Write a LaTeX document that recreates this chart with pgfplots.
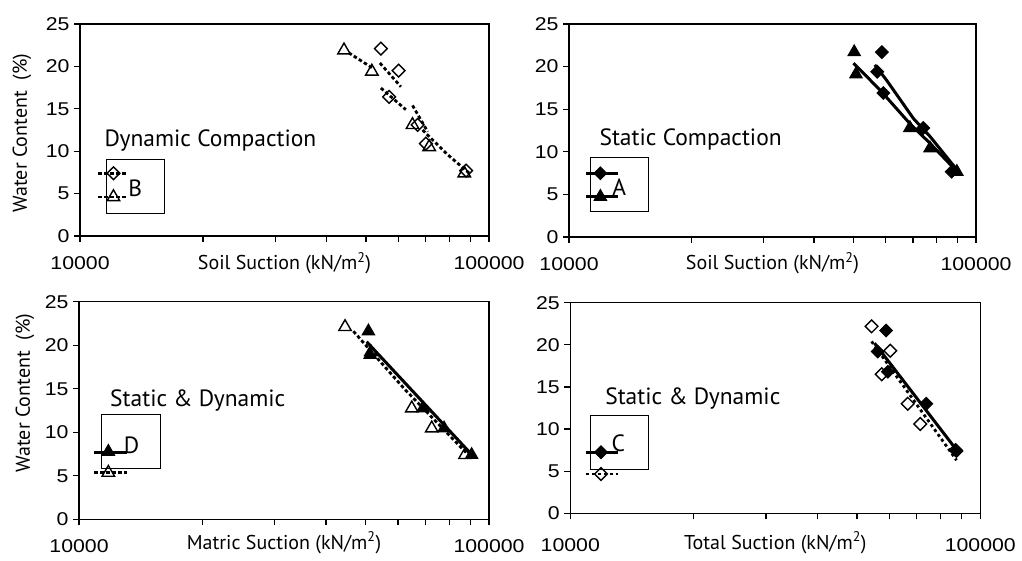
\documentclass[border=0pt]{standalone}
\usepackage{fontspec}
\setmainfont{PT Sans}
\newfontfamily\tickfont[FakeStretch=1.15]{Liberation Sans}
\usepackage{pgfplots}
\pgfplotsset{compat=1.18}
\pgfplotsset{
  suctionpanel/.style={
    xmin=10000, xmax=100000, ymin=0, ymax=25,
    scale only axis, clip=false,
    xtick={10000,100000}, xticklabels={10000,100000},
    minor xtick={20000,30000,40000,50000,60000,70000,80000,90000},
    ytick={0,5,10,15,20,25},
    tick align=outside, xtick pos=bottom, ytick pos=left,
    major tick length=6pt, minor tick length=6pt,
    axis line style={line width=1.3pt}, every tick/.style={line width=1.3pt, black},
    every minor tick/.style={line width=1.3pt, black},
    ticklabel style={font=\tickfont\fontsize{18.5}{18}\selectfont},
    /pgf/number format/assume math mode=true,
    yticklabel style={anchor=east, xshift=-1pt},
    xlabel style={font=\fontsize{20}{22}\selectfont, at={(axis description cs:0.5,0)}},
    unbounded coords=jump,
  },
  otri/.style={only marks, mark=triangle, mark size=7.2pt, mark options={solid, draw=black, fill=white, line width=1.4pt}},
  ftri/.style={only marks, mark=triangle*, mark size=7.2pt, mark options={solid, draw=black, fill=black, line width=1pt}},
  odia/.style={only marks, mark=square, mark size=4.5pt, mark options={solid, rotate=45, draw=black, fill=white, line width=1.4pt}},
  fdia/.style={only marks, mark=square*, mark size=4.5pt, mark options={solid, rotate=45, draw=black, fill=black, line width=1pt}},
  dynl/.style={no marks, black, line width=2.8pt, dash pattern=on 3.5pt off 2.5pt},
  dotl/.style={no marks, black, line width=2.8pt, dash pattern=on 3pt off 3pt},
  soll/.style={no marks, black, line width=3pt},
}
\newcommand{\annot}{\fontsize{23.5}{25}\selectfont}
\newcommand{\labf}{\fontsize{20}{22}\selectfont}
\begin{document}
\begin{tikzpicture}[x=1pt,y=1pt]
\useasboundingbox (0,0) rectangle (1022,560);

% ---------- Panel 1: Dynamic Compaction ----------
\begin{axis}[xmode=log, suctionpanel, at={(80pt,324pt)}, anchor=south west, width=409pt, height=212pt,
  xticklabel style={anchor=base, yshift=-28pt},
  xlabel={Soil Suction (kN/m\textsuperscript{2})},
  xlabel style={anchor=base, yshift=-34pt}]
\addplot[dynl] coordinates {(45400,21.6)(51900,19.8)(52000,nan)(68800,12.5)(79200,9.6)(89500,7.4)};
\addplot[dynl] coordinates {(54100,20.4)(60900,17.6)(61000,nan)(54400,17.45)(62600,14.9)(63000,nan)(65000,15.4)(70800,12.3)};
\addplot[otri] coordinates {(44200,21.9)(51700,19.4)(65000,13.1)(71400,10.5)(87000,7.4)};
\addplot[odia] coordinates {(54400,22.1)(60100,19.5)(57000,16.4)(66900,13.1)(70100,10.9)(87900,7.7)};
\node[anchor=west, font=\annot] at (axis cs:11260,11.3) {Dynamic Compaction};
\draw[line width=1pt] (axis cs:11580,2.71) rectangle (axis cs:16070,9.08);
\addplot[dynl] coordinates {(11090,7.4)(13010,7.4)};
\addplot[dynl] coordinates {(11090,4.6)(13010,4.6)};
\addplot[odia] coordinates {(12070,7.4)};
\addplot[otri] coordinates {(12070,4.6)};
\node[font=\annot] at (axis cs:13640,5.6) {B};
\end{axis}

% ---------- Panel 2: Static Compaction ----------
\begin{axis}[xmode=log, suctionpanel, at={(569pt,323pt)}, anchor=south west, width=407pt, height=213pt,
  xticklabel style={anchor=base, yshift=-28pt},
  xlabel={Soil Suction (kN/m\textsuperscript{2})},
  xlabel style={anchor=base, yshift=-33pt}]
\addplot[soll] coordinates {(50000,20.4)(58100,17.25)(68800,13.3)(77100,11.0)(91400,7.3)};
\addplot[soll] coordinates {(56400,20.2)(60300,18.4)(70200,13.9)(77100,11.8)(89700,7.9)};
\addplot[ftri] coordinates {(50200,21.7)(50700,19.1)(68800,12.8)(77100,10.4)(89700,7.66)};
\addplot[fdia] coordinates {(58700,21.7)(57200,19.4)(59200,16.9)(74200,12.8)(87100,7.66)};
\node[anchor=west, font=\annot] at (axis cs:11650,11.4) {Static Compaction};
\draw[line width=1pt] (axis cs:11260,2.97) rectangle (axis cs:15700,9.35);
\addplot[soll] coordinates {(11010,7.48)(13170,7.48)};
\addplot[soll] coordinates {(11010,4.73)(13170,4.73)};
\addplot[fdia] coordinates {(11940,7.48)};
\addplot[ftri] coordinates {(11940,4.73)};
\node[font=\annot] at (axis cs:13290,5.9) {A};
\end{axis}

% ---------- Panel 3: Static & Dynamic (matric) ----------
\begin{axis}[xmode=log, suctionpanel, at={(79pt,40.7pt)}, anchor=south west, width=410pt, height=217.6pt,
  xticklabel style={anchor=base, yshift=-27pt},
  xlabel={Matric Suction (kN/m\textsuperscript{2})},
  xlabel style={anchor=base, yshift=-30pt}]
\addplot[soll] coordinates {(50300,20.4)(91700,7.2)};
\addplot[dynl] coordinates {(46700,21.6)(62400,14.9)(88200,7.6)};
\addplot[otri] coordinates {(44550,22.1)(51500,19.2)(64800,12.75)(72500,10.45)(87400,7.4)};
\addplot[ftri] coordinates {(50800,21.6)(51300,18.9)(69000,12.75)(77700,10.45)(90700,7.4)};
\node[anchor=west, font=\annot] at (axis cs:11680,13.7) {Static \& Dynamic};
\draw[line width=1pt] (axis cs:11360,5.78) rectangle (axis cs:15820,12.0);
\addplot[soll] coordinates {(10900,7.7)(13070,7.7)};
\addplot[dynl] coordinates {(10900,5.36)(13070,5.36)};
\addplot[ftri] coordinates {(11790,7.77)};
\addplot[otri] coordinates {(11790,5.36)};
\node[font=\annot] at (axis cs:13440,8.54) {D};
\end{axis}

% ---------- Panel 4: Static & Dynamic (total) ----------
\begin{axis}[xmode=log, suctionpanel, at={(570.3pt,46.7pt)}, anchor=south west, width=410pt, height=210.6pt,
  xticklabel style={anchor=base, yshift=-32pt},
  xlabel={Total Suction (kN/m\textsuperscript{2})},
  xlabel style={anchor=base, yshift=-36pt}]
\addplot[soll] coordinates {(55200,20.2)(88200,7.3)};
\addplot[dotl] coordinates {(54300,20.4)(87500,6.3)};
\addplot[odia] coordinates {(54300,22.2)(60300,19.3)(57500,16.5)(66500,13.0)(71400,10.6)(87000,7.5)};
\addplot[fdia] coordinates {(58900,21.7)(56200,19.2)(59500,16.8)(73800,13.0)(87500,7.4)};
\node[anchor=west, font=\annot] at (axis cs:11930,13.6) {Static \& Dynamic};
\draw[line width=1pt] (axis cs:11170,5.22) rectangle (axis cs:15530,11.66);
\addplot[soll] coordinates {(10920,7.24)(13050,7.24)};
\addplot[dotl] coordinates {(10920,4.66)(13050,4.66)};
\addplot[fdia] coordinates {(11880,7.24)};
\addplot[odia] coordinates {(11880,4.66)};
\node[font=\annot] at (axis cs:13090,8.3) {C};
\end{axis}

% y labels
\node[rotate=90, font=\labf] at (22,427) {Water Content\ \ (\%)};
\node[rotate=90, font=\labf] at (25,167) {Water Content\ \ (\%)};
\end{tikzpicture}
\end{document}
